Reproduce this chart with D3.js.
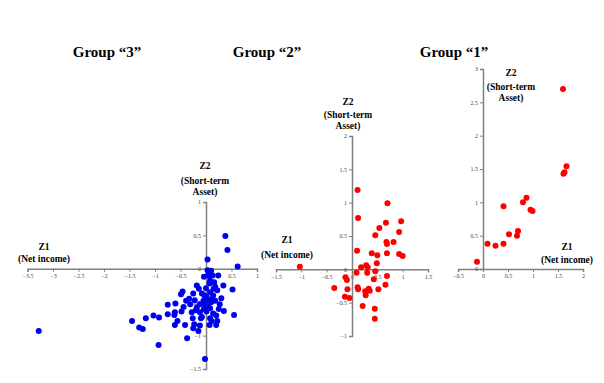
<!DOCTYPE html>
<html><head><meta charset="utf-8">
<script src="https://cdn.jsdelivr.net/npm/d3@7"></script>
<style>body{margin:0;background:#fff}svg{display:block}text{font-family:"Liberation Serif","Times New Roman",serif}</style>
</head><body>
<svg id="c" width="604" height="383"></svg>
<script>
// ---- data ----
const groupNames = ["Group \u201c3\u201d", "Group \u201c2\u201d", "Group \u201c1\u201d"];
const group3X = [-3.28,0.38,0.42,0.03,0.62,0.05,0.13,0.24,0.08,-0.18,-0.14,0,0.18,0.22,0.34,0.52,-0.46,-0.49,-0.25,0.08,0.14,-0.33,-0.39,-0.22,-0.05,0.05,0.18,-0.12,-0.02,-0.31,-0.60,-0.75,0.27,-0.44,-0.18,-0.04,0.08,0.25,0.35,-0.61,-0.48,-0.28,-0.12,0.01,0.14,-0.75,-0.62,0.55,-1.03,-0.92,-1.18,-1.45,-0.56,-0.26,-0.10,0.08,0.11,0.22,-0.61,-0.41,-0.23,-0.12,0.07,0.20,-1.31,-1.24,-0.25,-0.15,-0.37,-0.93,-0.02,0.07,-0.04,-0.08,0.01,0.10,0.07,0.03,0.16,0.12,-0.03,0.04,0.20,0.10,-0.20,0.30,0.15,-0.08];
const group3Y = [-0.93,0.49,0.28,0.14,0.035,-0.075,-0.10,-0.10,-0.18,-0.25,-0.30,-0.29,-0.27,-0.32,-0.25,-0.31,-0.34,-0.38,-0.37,-0.35,-0.40,-0.45,-0.48,-0.47,-0.48,-0.47,-0.48,-0.53,-0.54,-0.53,-0.52,-0.54,-0.53,-0.57,-0.58,-0.60,-0.59,-0.60,-0.63,-0.65,-0.64,-0.65,-0.65,-0.64,-0.67,-0.68,-0.69,-0.69,-0.70,-0.73,-0.74,-0.78,-0.78,-0.74,-0.74,-0.74,-0.78,-0.78,-0.84,-0.84,-0.83,-0.85,-0.84,-0.84,-0.88,-0.90,-0.89,-0.93,-1.04,-1.14,-1.35,-0.22,-0.12,-0.37,-0.42,-0.03,-0.11,-0.02,-0.20,-0.45,-0.40,-0.56,-0.70,-0.50,-0.62,-0.44,-0.30,-0.72];
const group2X = [-1.03,0.11,0.70,0.12,0.67,0.97,0.54,0.93,0.46,0.68,0.69,0.82,0.10,0.39,0.50,0.69,0.93,1.00,0.28,0.31,0.18,0.09,0.30,0.46,-0.13,-0.10,0.43,0.69,0.49,-0.35,-0.09,0.11,0.12,0.26,0.33,0.35,0.52,0.66,0.27,-0.14,-0.05,0.21,0.45,0.45];
const group2Y = [0.04,1.19,0.99,0.77,0.70,0.72,0.62,0.56,0.51,0.41,0.38,0.41,0.28,0.24,0.21,0.24,0.23,0.20,0.06,0.03,0.03,-0.05,-0.05,-0.03,-0.12,-0.16,-0.15,-0.10,0.09,-0.28,-0.30,-0.27,-0.30,-0.33,-0.29,-0.32,-0.30,-0.23,-0.39,-0.41,-0.43,-0.55,-0.59,-0.74];
const group1X = [1.60,1.67,1.63,1.61,0.87,0.80,0.41,0.95,0.99,0.70,0.68,0.52,0.41,0.09,0.25,-0.12];
const group1Y = [2.70,1.54,1.45,1.43,1.07,1.00,0.94,0.89,0.87,0.57,0.50,0.52,0.38,0.38,0.35,0.11];
const xTicks3 = [-3.5,-3,-2.5,-2,-1.5,-1,-0.5,0,0.5,1];
const yTicks3 = [-1.5,-1,-0.5,0,0.5,1];
const xTicks2 = [-1.5,-1,-0.5,0,0.5,1,1.5];
const yTicks2 = [-1,-0.5,0,0.5,1,1.5,2];
const xTicks1 = [-0.5,0,0.5,1,1.5,2];
const yTicks1 = [0,0.5,1,1.5,2,2.5,3];

// ---- layout ----
const panels = [
  {title:groupNames[0], tx:107, xs:group3X, ys:group3Y, xt:xTicks3, yt:yTicks3,
   xr:[27.5,257], yr:[369,202], color:"#0000f0",
   z2:{x:205,y:[169,184,195]}, z1:{x:44,y:[250,262]}},
  {title:groupNames[1], tx:267, xs:group2X, ys:group2Y, xt:xTicks2, yt:yTicks2,
   xr:[276,428], yr:[336,136], color:"#ff0000",
   z2:{x:348,y:[105,118,129]}, z1:{x:287,y:[243,258]}},
  {title:groupNames[2], tx:454, xs:group1X, ys:group1Y, xt:xTicks1, yt:yTicks1,
   xr:[458,583], yr:[269,69], color:"#ff0000",
   z2:{x:511,y:[76,90,101]}, z1:{x:567,y:[250,263]}}
];

const svg = d3.select("#c");
const serif = "Liberation Serif";
const axisColor = "#808080";

panels.forEach(p => {
  const x = d3.scaleLinear().domain(d3.extent(p.xt)).range(p.xr);
  const y = d3.scaleLinear().domain(d3.extent(p.yt)).range(p.yr);
  const g = svg.append("g");

  g.append("text").attr("x", p.tx).attr("y", 57).attr("text-anchor","middle")
    .style("font-family", serif).attr("font-weight","bold").attr("font-size",15)
    .attr("fill","#000").text(p.title);

  const xa = g.append("g").attr("transform", `translate(0,${y(0)})`)
    .call(d3.axisBottom(x).tickValues(p.xt).tickSize(3).tickPadding(2).tickFormat(d3.format("")));
  const ya = g.append("g").attr("transform", `translate(${x(0)},0)`)
    .call(d3.axisLeft(y).tickValues(p.yt).tickSize(3).tickPadding(2).tickFormat(d3.format("")));
  [xa, ya].forEach(a => {
    a.attr("font-family", null);
    a.select(".domain").attr("stroke", axisColor).attr("stroke-width", 1.5);
    a.selectAll(".tick line").attr("stroke", axisColor);
    a.selectAll(".tick text").style("font-family", serif).attr("font-size", 6).attr("fill","#444");
  });

  const lab = (txt, xx, yy) => g.append("text").attr("x", xx).attr("y", yy)
    .attr("text-anchor","middle").style("font-family", serif).attr("font-weight","bold")
    .attr("font-size", 9.5).attr("fill","#000").text(txt);
  lab("Z2", p.z2.x, p.z2.y[0]);
  lab("(Short-term", p.z2.x, p.z2.y[1]);
  lab("Asset)", p.z2.x, p.z2.y[2]);
  lab("Z1", p.z1.x, p.z1.y[0]);
  lab("(Net income)", p.z1.x, p.z1.y[1]);

  g.append("g").selectAll("circle").data(p.xs.map((v,i)=>[v,p.ys[i]])).join("circle")
    .attr("cx", d=>x(d[0])).attr("cy", d=>y(d[1])).attr("r", 3).attr("fill", p.color);
});
</script>
</body></html>
